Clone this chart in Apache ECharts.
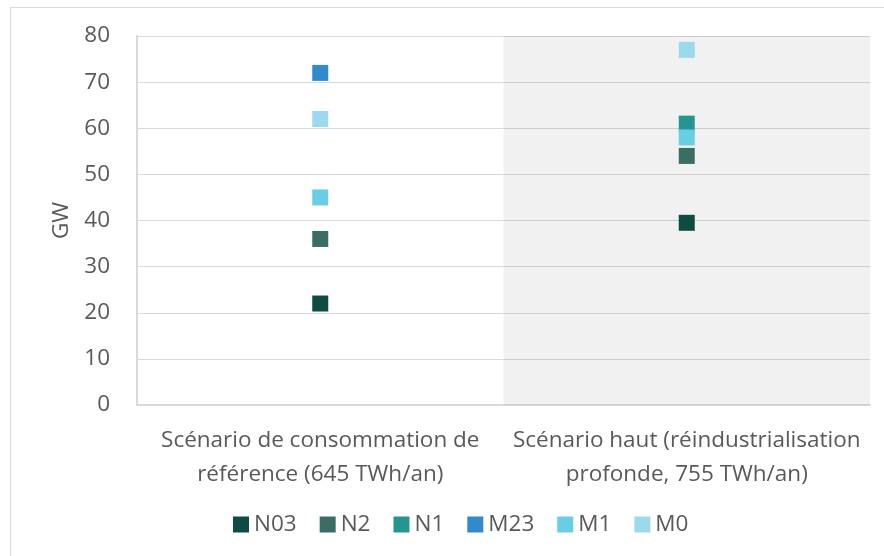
<!DOCTYPE html>
<html>
<head>
<meta charset="utf-8">
<script src="https://cdn.jsdelivr.net/npm/echarts@6/dist/echarts.min.js"></script>
<style>
  html, body { margin: 0; padding: 0; background: #fff; }
  #frame { position: absolute; left: 10px; top: 7px; width: 900px; height: 600px; border: 1px solid #d9d9d9; }
  #chart { position: absolute; left: 0; top: 0; width: 884px; height: 556px; }
</style>
</head>
<body>
<div id="frame"></div>
<div id="chart"></div>
<script>
var categories = ['Scénario de consommation de\nréférence (645 TWh/an)', 'Scénario haut (réindustrialisation\nprofonde, 755 TWh/an)'];
var shade = [null, 80];
var seriesNames = ['N03', 'N2', 'N1', 'M23', 'M1', 'M0'];
var colors = ['#0e4b42', '#3a6e65', '#27958f', '#318acc', '#69cde6', '#9bd9ec'];
var n03 = [22, 39.5];
var n2 = [36, 54];
var n1 = [null, 61];
var m23 = [72, null];
var m1 = [45, 58];
var m0 = [62, 77];
var values = [n03, n2, n1, m23, m1, m0];

var font = '"Open Sans", sans-serif';
var textColor = '#595959';

var series = [{
  name: 'shade',
  type: 'bar',
  data: shade,
  barWidth: '100%',
  silent: true,
  itemStyle: { color: 'rgba(0,0,0,0.055)' },
  z: 1
}];
seriesNames.forEach(function (name, i) {
  series.push({
    name: name,
    type: 'scatter',
    symbol: 'rect',
    symbolSize: 16,
    data: values[i],
    itemStyle: { color: colors[i], opacity: 1 },
    z: 3
  });
});

var chart = echarts.init(document.getElementById('chart'));
chart.setOption({
  animation: false,
  grid: { left: 137, right: 14, top: 36, bottom: 151 },
  legend: {
    data: seriesNames,
    bottom: 15,
    left: 228,
    icon: 'rect',
    itemWidth: 16,
    itemHeight: 16,
    itemGap: 23,
    textStyle: { fontFamily: font, fontSize: 22.5, color: textColor }
  },
  xAxis: {
    type: 'category',
    data: categories,
    axisTick: { show: false },
    axisLine: { lineStyle: { color: '#d9d9d9', width: 2 } },
    axisLabel: { interval: 0, fontFamily: font, fontSize: 22.5, color: textColor, lineHeight: 34, margin: 19 }
  },
  yAxis: {
    type: 'value',
    min: 0,
    max: 80,
    interval: 10,
    name: 'GW',
    nameLocation: 'middle',
    nameGap: 62,
    nameTextStyle: { fontFamily: font, fontSize: 22.5, color: textColor },
    axisLine: { show: true, lineStyle: { color: '#d9d9d9', width: 2 } },
    axisLabel: { fontFamily: font, fontSize: 22.5, color: textColor, margin: 27 },
    splitLine: { lineStyle: { color: '#d9d9d9', width: 1 } }
  },
  series: series
});
</script>
</body>
</html>
